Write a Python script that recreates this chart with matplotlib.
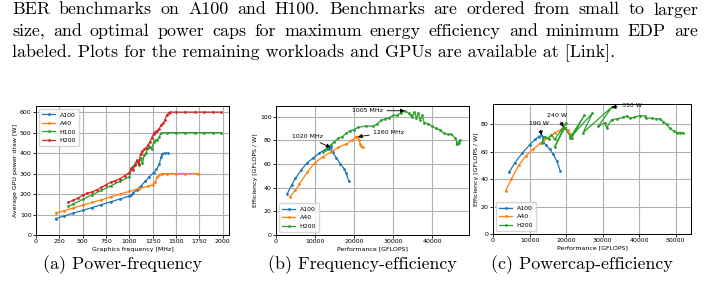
import matplotlib
matplotlib.use("Agg")
import matplotlib.pyplot as plt

# ---- data: (a) power vs frequency ----
a100_freq = [210, 300, 400, 500, 600, 700, 800, 900, 1000, 1020, 1035, 1080, 1125, 1170,
             1215, 1260, 1290, 1320, 1340, 1350, 1380, 1410]
a100_power = [80, 93, 107, 120, 134, 148, 162, 176, 190, 193, 205, 220, 240, 262,
              285, 305, 320, 345, 380, 398, 400, 400]

a40_freq = [210, 300, 400, 500, 600, 700, 800, 900, 1000, 1100, 1200, 1250, 1275, 1300,
            1320, 1350, 1400, 1500, 1600, 1740]
a40_power = [107, 119, 132, 146, 159, 172, 186, 200, 213, 226, 238, 246, 258, 283,
             295, 300, 300, 300, 300, 300]

h100_freq = [345, 400, 500, 600, 700, 800, 900, 1000, 1020, 1040, 1060, 1080, 1100, 1120,
             1140, 1160, 1180, 1200, 1220, 1240, 1260, 1280, 1300, 1320, 1340, 1400, 1500,
             1600, 1700, 1800, 1900, 1980]
h100_power = [140, 152, 174, 196, 218, 240, 262, 284, 320, 335, 345, 360, 340, 375,
              350, 390, 400, 425, 430, 420, 455, 462, 465, 478, 498, 500, 500,
              500, 500, 500, 500, 500]

h200_freq = [345, 400, 450, 500, 550, 600, 650, 700, 750, 800, 850, 900, 950, 1000, 1020,
             1040, 1060, 1080, 1100, 1120, 1140, 1160, 1180, 1200, 1220, 1240, 1260, 1280,
             1300, 1320, 1340, 1360, 1380, 1400, 1420, 1440, 1500, 1600, 1700, 1800, 1900, 1980]
h200_power = [160, 170, 180, 195, 205, 210, 220, 232, 245, 258, 265, 275, 290, 305, 325,
              318, 340, 365, 345, 395, 410, 420, 425, 440, 455, 475, 495, 505,
              510, 520, 535, 545, 560, 585, 595, 600, 600, 600, 600, 600, 600, 600]

# ---- data: (b) frequency sweep, performance vs efficiency ----
b_a100_perf = [2900, 4000, 5000, 6500, 8000, 9500, 11000, 12500, 13500, 14000,
               14500, 15500, 16500, 17500, 18000, 18600]
b_a100_eff = [35, 42, 48, 55, 61, 65, 69, 72, 73, 74,
              70, 65, 60, 56, 52, 46]

b_a40_perf = [3500, 5000, 6000, 8000, 10000, 12000, 14000, 16000, 18000, 19500, 20500,
              21000, 21300, 21600, 21900, 22200]
b_a40_eff = [32, 38, 43, 53, 61, 66, 70, 74, 77, 80, 83,
             83, 80, 77, 75, 74]

b_h200_perf = [12000, 13000, 14000, 15000, 16000, 17000, 18000, 19000, 20000, 21000, 23000,
               25000, 26000, 27000, 28000, 29000, 30000, 31000, 32000, 33000, 34000, 34500,
               35000, 35500, 36000, 36500, 37000, 37500, 38000, 39000, 40000, 41000, 42000,
               43000, 44000, 45000, 46000, 46500, 47000, 46300, 47200]
b_h200_eff = [70, 73, 76, 79, 82, 83, 86, 88, 89, 91, 92,
              92, 94, 97, 98, 99, 101, 101, 103, 105, 103, 101,
              100, 104, 99, 103, 97, 101, 95, 94, 92, 90, 89,
              86, 85, 85, 82, 77, 78, 77, 80]

# ---- data: (c) power cap sweep, performance vs efficiency ----
c_a100_perf = [4400, 6000, 8000, 10000, 11500, 12500, 13200, 13700, 13600, 14500,
               15500, 16500, 17500, 18400]
c_a100_eff = [45, 52, 59, 65, 69, 71, 72, 71, 67, 65,
              62, 58, 53, 46]

c_a40_perf = [3500, 5000, 7000, 9000, 11000, 13000, 15000, 17000, 18500, 19500,
              20500, 21200, 21000]
c_a40_eff = [31.5, 40, 50, 57, 62, 66, 70, 74, 76, 77,
             76, 73, 70]

c_h200_perf = [13400, 14200, 15200, 16000, 16900, 20000, 16900, 19600, 21500, 25000, 21000,
               27200, 24700, 32500, 28800, 30600, 31100, 32500, 34000, 35500, 36600, 37500,
               38500, 40200, 41500, 42000, 43500, 44500, 45700, 46600, 47500, 48400, 49500,
               50300, 51200, 51900]
c_h200_eff = [66.5, 71, 69.5, 72.5, 69, 81, 63.5, 77.5, 70, 86.5, 70,
              88, 74, 92.5, 78.5, 81, 77.4, 83.4, 84, 85, 86, 84.5,
              85, 86.4, 86, 84.5, 84.5, 84, 84, 82, 80, 77, 75,
              74, 74, 74]

paragraph = [
    "BER benchmarks on A100 and H100. Benchmarks are ordered from small to larger",
    "size, and optimal power caps for maximum energy efficiency and minimum EDP are",
    "labeled. Plots for the remaining workloads and GPUs are available at [Link].",
]
captions = ["(a) Power-frequency", "(b) Frequency-efficiency", "(c) Powercap-efficiency"]

# ---- style ----
blue, orange, green, red = "#1f77b4", "#ff7f0e", "#2ca02c", "#d62728"
fs = 4.5
plt.rcParams.update({
    "font.family": "DejaVu Sans",
    "font.size": fs,
    "axes.linewidth": 0.7,
    "xtick.major.width": 0.6,
    "ytick.major.width": 0.6,
    "xtick.major.size": 2,
    "ytick.major.size": 2,
    "xtick.major.pad": 1.2,
    "ytick.major.pad": 1.2,
    "axes.labelpad": 1.5,
})
line_kw = dict(lw=0.9, marker=".", ms=2)

W, H = 704, 287
fig = plt.figure(figsize=(W / 100, H / 100), dpi=100)


def box(l, r, t, b):
    return [l / W, 1 - b / H, (r - l) / W, (b - t) / H]


def arrow(ax, text, xy, xytext):
    ax.annotate(text, xy=xy, xytext=xytext, fontsize=fs, va="center",
                arrowprops=dict(arrowstyle="-|>", color="black", lw=0.6,
                                mutation_scale=6, shrinkA=1, shrinkB=0))


def style(ax):
    ax.grid(True, color="#b0b0b0", lw=0.8)
    ax.set_axisbelow(True)
    ax.tick_params(labelsize=fs)


# (a)
ax1 = fig.add_axes(box(36, 229, 106, 235))
ax1.plot(a100_freq, a100_power, color=blue, label="A100", **line_kw)
ax1.plot(a40_freq, a40_power, color=orange, label="A40", **line_kw)
ax1.plot(h100_freq, h100_power, color=green, label="H100", **line_kw)
ax1.plot(h200_freq, h200_power, color=red, label="H200", **line_kw)
ax1.set_xlim(0, 2068)
ax1.set_ylim(0, 630)
ax1.set_xticks(range(0, 2001, 250))
ax1.set_yticks(range(0, 601, 100))
ax1.set_xlabel("Graphics frequency [MHz]", fontsize=fs)
ax1.set_ylabel("Average GPU power draw [W]", fontsize=fs)
ax1.legend(loc="upper left", fontsize=fs, handlelength=2, borderpad=0.5, labelspacing=0.5)
style(ax1)

# (b)
ax2 = fig.add_axes(box(276, 469, 106, 235))
ax2.plot(b_a100_perf, b_a100_eff, color=blue, label="A100", **line_kw)
ax2.plot(b_a40_perf, b_a40_eff, color=orange, label="A40", **line_kw)
ax2.plot(b_h200_perf, b_h200_eff, color=green, label="H200", **line_kw)
ax2.set_xlim(0, 49500)
ax2.set_ylim(0, 109)
ax2.set_xticks(range(0, 40001, 10000))
ax2.set_yticks(range(0, 101, 20))
ax2.set_xlabel("Performance [GFLOPS]", fontsize=fs)
ax2.set_ylabel("Efficiency [GFLOPS / W]", fontsize=fs)
ax2.legend(loc="lower left", fontsize=fs, handlelength=2, borderpad=0.5, labelspacing=0.5)
arrow(ax2, "1005 MHz", (33000, 105), (19500, 105))
arrow(ax2, "1020 MHz", (14000, 74), (4000, 83))
arrow(ax2, "1260 MHz", (21000, 83), (25000, 86.8))
style(ax2)

# (c)
ax3 = fig.add_axes(box(493, 691, 104, 234))
ax3.plot(c_a100_perf, c_a100_eff, color=blue, label="A100", **line_kw)
ax3.plot(c_a40_perf, c_a40_eff, color=orange, label="A40", **line_kw)
ax3.plot(c_h200_perf, c_h200_eff, color=green, label="H200", **line_kw)
ax3.set_xlim(0, 54200)
ax3.set_ylim(0, 94.8)
ax3.set_xticks(range(0, 50001, 10000))
ax3.set_yticks(range(0, 81, 20))
ax3.set_xlabel("Performance [GFLOPS]", fontsize=fs)
ax3.set_ylabel("Efficiency [GFLOPS / W]", fontsize=fs)
ax3.legend(loc="lower left", fontsize=fs, handlelength=2, borderpad=0.5, labelspacing=0.5)
arrow(ax3, "350 W", (32500, 92.5), (35200, 93.5))
arrow(ax3, "240 W", (19300, 78), (14800, 86.5))
arrow(ax3, "190 W", (13300, 72), (9900, 80.5))
style(ax3)

# paragraph text above the figure, justified like the paper
serif = "cmr10"
tsize = 12.9
x0, x1 = 12 / W, 698 / W
baselines = [14.5, 36, 57.5]
for i, line in enumerate(paragraph):
    y = 1 - baselines[i] / H
    if i == len(paragraph) - 1:
        fig.text(x0, y, line, fontsize=tsize, family=serif, va="baseline")
        continue
    texts = [fig.text(0, y, w, fontsize=tsize, family=serif, va="baseline")
             for w in line.split()]
    fig.canvas.draw()
    r = fig.canvas.get_renderer()
    widths = [t.get_window_extent(r).width / fig.bbox.width for t in texts]
    gap = (x1 - x0 - sum(widths)) / (len(texts) - 1)
    x = x0
    for t, w in zip(texts, widths):
        t.set_x(x)
        x += w + gap

# sub-captions
for cx, cap in zip([122, 362, 582], captions):
    fig.text(cx / W, 1 - 269 / H, cap, fontsize=tsize, family=serif,
             ha="center", va="baseline")

fig.savefig("out.png", dpi=100)
